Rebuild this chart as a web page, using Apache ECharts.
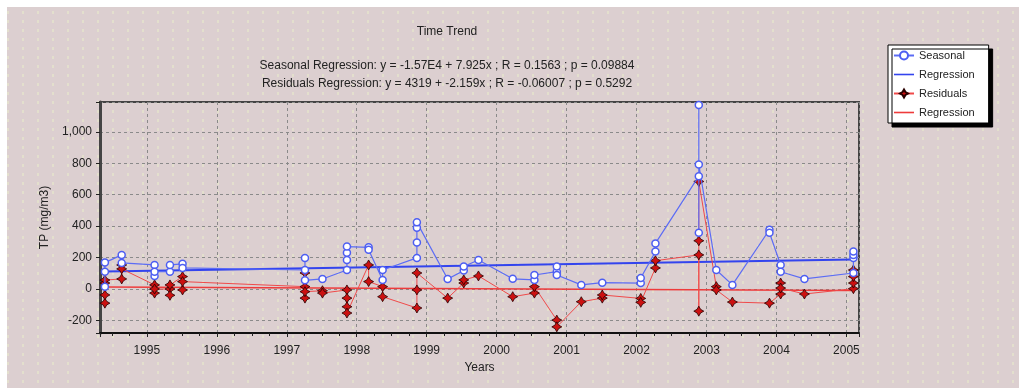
<!DOCTYPE html>
<html>
<head>
<meta charset="utf-8">
<script src="https://cdn.jsdelivr.net/npm/echarts@6/dist/echarts.min.js"></script>
<style>
html,body{margin:0;padding:0;background:#fff;}
#chart{width:1019px;height:388px;}
</style>
</head>
<body>
<div id="chart"></div>
<script>
// ---- data ----
const sampleDates = [1994.40, 1994.64, 1995.11, 1995.33, 1995.51, 1997.26, 1997.51, 1997.86, 1998.17, 1998.37,
  1998.86, 1999.30, 1999.53, 1999.74, 2000.23, 2000.54, 2000.86, 2001.21, 2001.51, 2002.06,
  2002.27, 2002.89, 2003.14, 2003.37, 2003.90, 2004.06, 2004.40, 2005.10];
const seasonalValues = [[15,110,168],[217,166],[153,83,110],[110,153],[160,134],[121,198,55],[64],[121,185,230,270],[265,250],[58,121],
  [198,296,390,424],[64],[117,143],[185],[65],[58,89],[110,143,89],[26],[40],[38,70],
  [238,290],[718,1171,358,792],[121],[26],[377,358],[153,110],[64],[102,198,217,238]];
const residualValues = [[-90,-38,38,57],[64,153,128],[26,-26,0],[0,-40,26],[79,-6,47],[15,102,-58,-17],[-11,-26],[-6,-58,-113,-153],[153,47],[15,-49],
  [-121,-6,102],[-58],[38,58],[83],[-49],[-26,15],[-198,-241],[-81],[-58,-38],[-60,-85],
  [134,180],[217,-141,307,684],[15,-6],[-83],[-90],[-32,38,6],[-32],[2,38,79,121]];
const seasonalRegression = [[1994.40, 112], [2005.10, 188]];
const residualRegression = [[1994.40, 13], [2005.10, -10]];
const yearTicks = [1995,1996,1997,1998,1999,2000,2001,2002,2003,2004,2005];
const valueTicks = [-200,0,200,400,600,800,1000];
const titleText = 'Time Trend';
const seasonalLine = 'Seasonal Regression: y = -1.57E4 + 7.925x ; R = 0.1563 ; p = 0.09884';
const residualLine = 'Residuals Regression: y = 4319 + -2.159x ; R = -0.06007 ; p = 0.5292';

function pairs(dates, groups){
  const out = [];
  dates.forEach((d,i)=>groups[i].forEach(v=>out.push([d,v])));
  return out;
}

// dotted background pattern
const pc = document.createElement('canvas');
pc.width = 15; pc.height = 9;
const g = pc.getContext('2d');
g.fillStyle = '#dccfd0'; g.fillRect(0,0,15,9);
g.fillStyle = '#e3dfcd'; g.fillRect(7,2,2,3);

const FONT = 'Liberation Sans, Arial, sans-serif';
const chart = echarts.init(document.getElementById('chart'), null, {renderer:'canvas'});
const star = 'path://M0,-5 L1.8,-1.8 L5,0 L1.8,1.8 L0,5 L-1.8,1.8 L-5,0 L-1.8,-1.8 Z';
const flatIcon = 'path://M0,0 L20,0 L20,1.6 L0,1.6 Z';

chart.setOption({
  backgroundColor: '#fff',
  animation: false,
  graphic: [
    {type:'rect', z:-10, shape:{x:7,y:7,width:1012,height:381}, style:{fill:{image:pc, repeat:'repeat'}}, silent:true},
    {type:'text', x:447, y:32, style:{text:titleText, fill:'#222', font:'12px '+FONT, textAlign:'center', textVerticalAlign:'middle'}},
    {type:'text', x:447, y:66, style:{text:seasonalLine, fill:'#222', font:'12px '+FONT, textAlign:'center', textVerticalAlign:'middle'}},
    {type:'text', x:447, y:84, style:{text:residualLine, fill:'#222', font:'12px '+FONT, textAlign:'center', textVerticalAlign:'middle'}}
  ],
  grid: {left:100, right:160, top:102, bottom:55, show:true, borderColor:'#444', borderWidth:2, backgroundColor:'transparent'},
  legend: {
    orient:'vertical', left:888, top:45,
    backgroundColor:'#fff', borderColor:'#000', borderWidth:1,
    shadowColor:'#000', shadowOffsetX:4, shadowOffsetY:4, shadowBlur:0,
    padding:[5,14,5,5], itemWidth:20, itemHeight:10, itemGap:8,
    symbolKeepAspect:true,
    textStyle:{fontSize:11, fontFamily:FONT, color:'#222'},
    formatter: n => n.indexOf('Regression')>=0 ? 'Regression' : n,
    data:[
      {name:'Seasonal'},
      {name:'Seasonal Regression', icon:flatIcon},
      {name:'Residuals'},
      {name:'Residuals Regression', icon:flatIcon}
    ]
  },
  xAxis: {
    type:'value', min:1994.33, max:2005.18, splitNumber:11,
    name:'Years', nameLocation:'middle', nameGap:28,
    nameTextStyle:{fontSize:12, fontFamily:FONT, color:'#222'},
    axisLine:{show:true, onZero:false, lineStyle:{color:'#111', width:2}},
    axisTick:{show:true, length:4, lineStyle:{color:'#222'}},
    minorTick:{show:true, splitNumber:4, length:3, lineStyle:{color:'#222'}},
    axisLabel:{customValues:yearTicks, fontSize:12, fontFamily:FONT, color:'#222', margin:12,
      formatter: v => String(Math.round(v))},
    splitLine:{show:true, lineStyle:{color:'#8a8a8a', type:[3,3], width:1}}
  },
  yAxis: {
    type:'value', min:-280, max:1190, splitNumber:7,
    name:'TP (mg/m3)', nameLocation:'middle', nameGap:47,
    nameTextStyle:{fontSize:12, fontFamily:FONT, color:'#222'},
    axisLine:{show:true, onZero:false, lineStyle:{color:'#444', width:3}},
    axisTick:{show:true, length:4, lineStyle:{color:'#222'}},
    axisLabel:{customValues:valueTicks, fontSize:12, fontFamily:FONT, color:'#222', margin:8,
      formatter: v => Number(v).toLocaleString('en-US')},
    splitLine:{show:true, lineStyle:{color:'#8a8a8a', type:[3,3], width:1}}
  },
  series: [
    {name:'Seasonal Regression', type:'line', data:seasonalRegression, symbol:'none', z:2,
      lineStyle:{color:'#3344ee', width:2}, itemStyle:{color:'#3344ee'}},
    {name:'Residuals Regression', type:'line', data:residualRegression, symbol:'none', z:2,
      lineStyle:{color:'#ee3b3b', width:1.5}, itemStyle:{color:'#ee3b3b'}},
    {name:'Residuals', type:'line', data:pairs(sampleDates, residualValues), z:3,
      symbol:star, symbolSize:10,
      lineStyle:{color:'#f04a4a', width:1},
      itemStyle:{color:'#cc1111', borderColor:'#2a0000', borderWidth:0.8}},
    {name:'Seasonal', type:'line', data:pairs(sampleDates, seasonalValues), z:4,
      symbol:'circle', symbolSize:7,
      lineStyle:{color:'#5c6cf5', width:1.2},
      itemStyle:{color:'#ffffff', borderColor:'#4d5ef2', borderWidth:1.5}}
  ]
});
</script>
</body>
</html>
